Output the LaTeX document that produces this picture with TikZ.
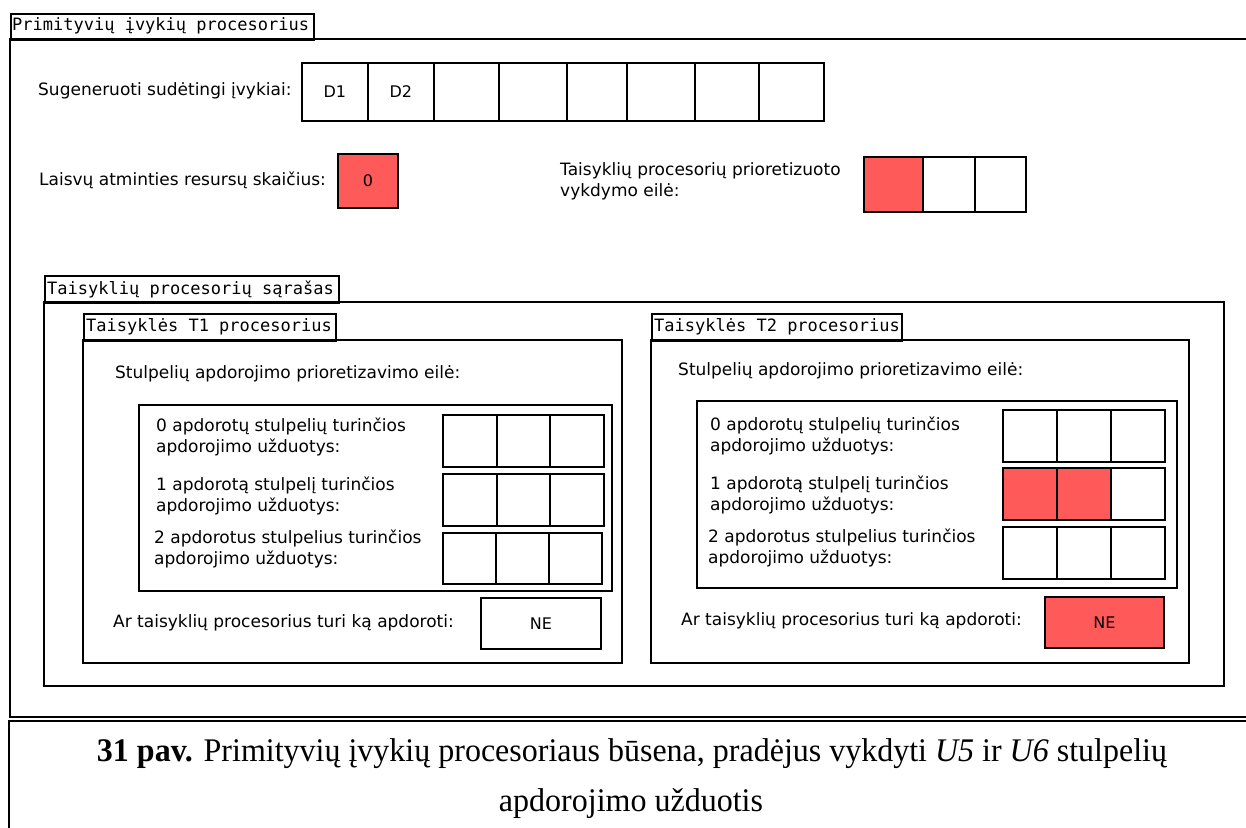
\documentclass[tikz,border=0pt]{standalone}
\usepackage{fontspec}
\setmainfont{DejaVu Sans}
\newfontfamily\tabfont{DejaVu Sans Mono}
\newfontfamily\capfont{Liberation Serif}
\definecolor{busy}{RGB}{255,90,90}

\begin{document}
\begin{tikzpicture}[x=1pt,y=-1pt,
  frame/.style={draw, line width=1.8pt},
  tabbox/.style={draw, line width=1.8pt, anchor=north west, inner sep=0pt},
  tabtext/.style={anchor=west, inner sep=0pt, font=\tabfont\fontsize{17}{20}\selectfont},
  cell/.style={draw, line width=1.8pt, anchor=north west, inner sep=0pt,
    font=\fontsize{16}{19}\selectfont},
  busycell/.style={cell, fill=busy},
  lbl/.style={anchor=west, inner sep=0pt, align=left,
    font=\fontsize{17}{21}\selectfont},
  captext/.style={anchor=base, inner sep=0pt, font=\capfont\fontsize{33}{40}\selectfont},
]
\useasboundingbox (0,0) rectangle (1246,827);
\clip (0,0) rectangle (1246,827);

% ---- outer processor frame ----
\node[tabbox, minimum width=303, minimum height=26] (ptab) at (10,13) {};
\node[tabtext] (ptabt) at (12,26) {Primityvių įvykių procesorius};
\draw[frame] (10,39) rectangle (1270,717);
\coordinate (capA) at (9,840);
\coordinate (capB) at (9,721);
\coordinate (capC) at (1270,721);
\draw[line width=1.5pt] (capA) -- (capB) -- (capC);

% ---- generated complex events ----
\node[lbl] (genl) at (38,91) {Sugeneruoti sudėtingi įvykiai:};
\foreach [count=\i] \a/\b/\t in {301/367/D1,367/433/D2,433/498/,498/566/,566/626/,626/694/,694/758/,758/823/}
  \node[cell, minimum width={\b-\a}, minimum height=58] (d\i) at (\a,62) {\t};

% ---- free memory ----
\node[lbl] (meml) at (39,180) {Laisvų atminties resursų skaičius:};
\node[busycell, minimum width=60, minimum height=54] (mem) at (337,153) {0};

% ---- prioritised execution queue ----
\node[lbl] (ql) at (560,181) {Taisyklių procesorių prioretizuoto\\vykdymo eilė:};
\foreach [count=\i] \a/\b/\s in {863/922/busycell,922/974/cell,974/1025/cell}
  \node[\s, minimum width={\b-\a}, minimum height=55] (q\i) at (\a,156) {};

% ---- rule processor list ----
\node[tabbox, minimum width=294, minimum height=27] (ltab) at (44,275) {};
\node[tabtext] (ltabt) at (47,289) {Taisyklių procesorių sąrašas};
\draw[frame] (44,302) rectangle (1224,686);

% ---- T1 processor ----
\node[tabbox, minimum width=252, minimum height=27] (t1tab) at (83,313) {};
\node[tabtext] (t1tabt) at (86,327) {Taisyklės T1 procesorius};
\draw[frame] (83,340) rectangle (622,663);
\node[lbl] (t1h) at (115,374) {Stulpelių apdorojimo prioretizavimo eilė:};
\draw[frame] (139,405) rectangle (612,591);
\node[lbl] (t1r1) at (156,437) {0 apdorotų stulpelių turinčios\\apdorojimo užduotys:};
\node[lbl] (t1r2) at (156,496) {1 apdorotą stulpelį turinčios\\apdorojimo užduotys:};
\node[lbl] (t1r3) at (154,549) {2 apdorotus stulpelius turinčios\\apdorojimo užduotys:};
\foreach [count=\i] \a/\b in {442/496,496/549,549/603}
  \node[cell, minimum width={\b-\a}, minimum height=52] (t1a\i) at (\a,414) {};
\foreach [count=\i] \a/\b in {442/496,496/549,549/603}
  \node[cell, minimum width={\b-\a}, minimum height=52] (t1b\i) at (\a,473) {};
\foreach [count=\i] \a/\b in {442/495,495/548,548/601}
  \node[cell, minimum width={\b-\a}, minimum height=51] (t1c\i) at (\a,532) {};
\node[lbl] (t1q) at (113,623) {Ar taisyklių procesorius turi ką apdoroti:};
\node[cell, minimum width=120, minimum height=51] (t1ne) at (480,597) {NE};

% ---- T2 processor ----
\node[tabbox, minimum width=250, minimum height=27] (t2tab) at (651,313) {};
\node[tabtext] (t2tabt) at (654,327) {Taisyklės T2 procesorius};
\draw[frame] (651,340) rectangle (1189,663);
\node[lbl] (t2h) at (678,371) {Stulpelių apdorojimo prioretizavimo eilė:};
\draw[frame] (697,401) rectangle (1177,588);
\node[lbl] (t2r1) at (710,436) {0 apdorotų stulpelių turinčios\\apdorojimo užduotys:};
\node[lbl] (t2r2) at (710,495) {1 apdorotą stulpelį turinčios\\apdorojimo užduotys:};
\node[lbl] (t2r3) at (708,548) {2 apdorotus stulpelius turinčios\\apdorojimo užduotys:};
\foreach [count=\i] \a/\b/\s in {1002/1056/cell,1056/1110/cell,1110/1164/cell}
  \node[\s, minimum width={\b-\a}, minimum height=52] (t2a\i) at (\a,409) {};
\foreach [count=\i] \a/\b/\s in {1002/1056/busycell,1056/1110/busycell,1110/1164/cell}
  \node[\s, minimum width={\b-\a}, minimum height=52] (t2b\i) at (\a,467) {};
\foreach [count=\i] \a/\b/\s in {1002/1056/cell,1056/1110/cell,1110/1164/cell}
  \node[\s, minimum width={\b-\a}, minimum height=52] (t2c\i) at (\a,526) {};
\node[lbl] (t2q) at (681,621) {Ar taisyklių procesorius turi ką apdoroti:};
\node[busycell, minimum width=119, minimum height=51] (t2ne) at (1044,596) {NE};

% ---- caption ----
\node[captext] (cap1) at (632,761)
  {\resizebox{1070pt}{\height}{\textbf{31 pav.} Primityvių įvykių procesoriaus būsena, pradėjus vykdyti \textit{U5} ir \textit{U6} stulpelių}};
\node[captext] (cap2) at (631,811) {\resizebox{264pt}{\height}{apdorojimo užduotis}};
\end{tikzpicture}
\end{document}
